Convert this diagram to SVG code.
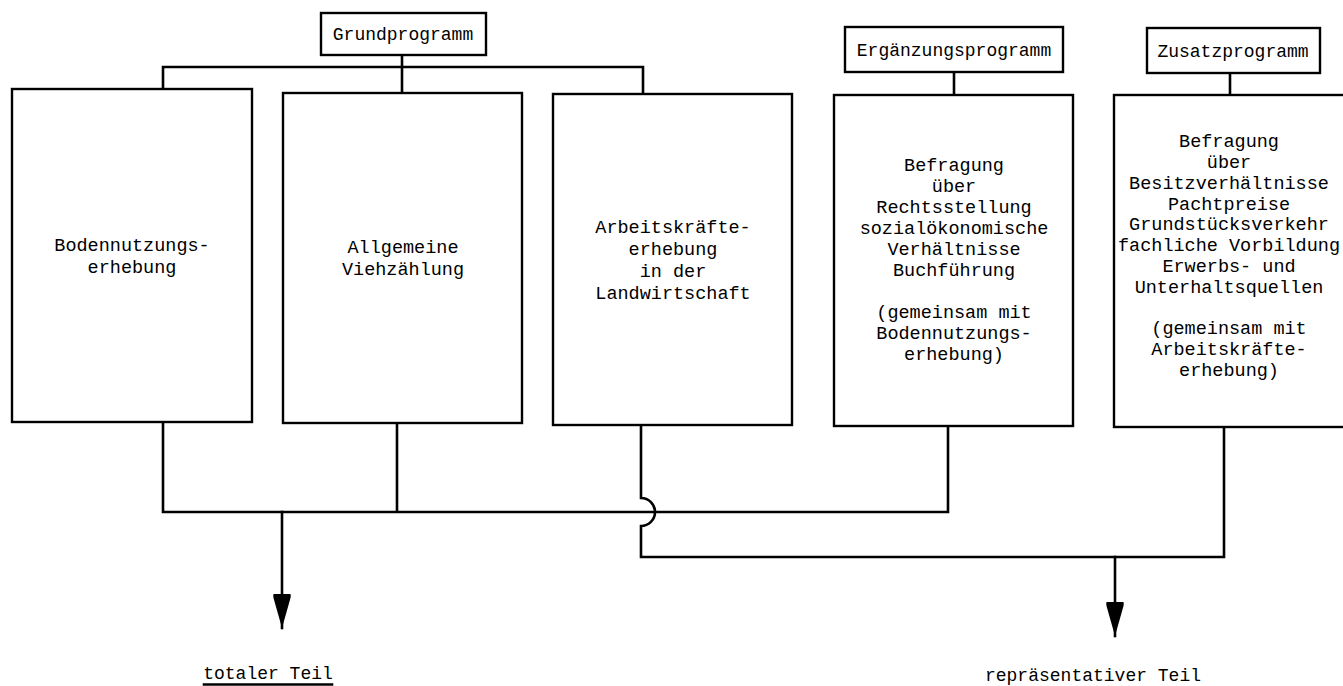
<svg xmlns="http://www.w3.org/2000/svg" width="1343" height="686" viewBox="0 0 1343 686">
<style>
.box{fill:#fff;stroke:#000;stroke-width:2.4}
.ln{fill:none;stroke:#000;stroke-width:2.6;stroke-linecap:square}
.t{font-family:"Liberation Mono","DejaVu Sans Mono",monospace;font-size:18.5px;fill:#000;text-anchor:middle}
.h{font-size:18px}
</style>
<defs>
<marker id="ah" markerUnits="userSpaceOnUse" markerWidth="40" markerHeight="20" refX="34" refY="0" viewBox="0 -10 36 20" orient="auto" overflow="visible">
<path d="M0,-8.5 Q2,-9 4,-8.5 L34,0 L4,8.5 Q2,9 0,8.5 Z" fill="#000"/>
</marker>
</defs>
<rect width="1343" height="686" fill="#fff"/>
<g id="connectors">
<path class="ln" d="M402,55 V67 M163,88 V67 H643 V94 M402,67 V92"/>
<path class="ln" d="M954,72 V95"/>
<path class="ln" d="M1230,73 V95"/>
<path class="ln" d="M163,422 V512 H948 V426 M397,423 V512"/>
<path class="ln" d="M641,425 V498 A14,14 0 0 1 641,526 V557 H1224 V427"/>
<path class="ln" d="M282,512 V628" marker-end="url(#ah)"/>
<path class="ln" d="M1115,557 V636" marker-end="url(#ah)"/>
</g>
<g id="grundprogramm">
<rect class="box" x="321" y="13" width="165" height="42"/>
<text class="t h" x="403" y="40">Grundprogramm</text>
</g>
<g id="ergaenzungsprogramm">
<rect class="box" x="845" y="27" width="218" height="45"/>
<text class="t h" x="954" y="56">Ergänzungsprogramm</text>
</g>
<g id="zusatzprogramm">
<rect class="box" x="1147" y="28" width="173" height="45"/>
<text class="t h" x="1233" y="57">Zusatzprogramm</text>
</g>
<g id="bodennutzung">
<rect class="box" x="12" y="89" width="240" height="333"/>
<text class="t" x="132" y="251">Bodennutzungs-</text>
<text class="t" x="132" y="272.5">erhebung</text>
</g>
<g id="viehzaehlung">
<rect class="box" x="283" y="93" width="239" height="330"/>
<text class="t" x="403" y="253">Allgemeine</text>
<text class="t" x="403" y="274.5">Viehzählung</text>
</g>
<g id="arbeitskraefte">
<rect class="box" x="553" y="94" width="239" height="331"/>
<text class="t" x="673" y="233">Arbeitskräfte-</text>
<text class="t" x="673" y="255">erhebung</text>
<text class="t" x="673" y="277">in der</text>
<text class="t" x="673" y="299">Landwirtschaft</text>
</g>
<g id="ergaenzung-inhalt">
<rect class="box" x="834" y="95" width="239" height="331"/>
<text class="t" x="954" y="171">Befragung</text>
<text class="t" x="954" y="192">über</text>
<text class="t" x="954" y="213">Rechtsstellung</text>
<text class="t" x="954" y="234">sozialökonomische</text>
<text class="t" x="954" y="255">Verhältnisse</text>
<text class="t" x="954" y="276">Buchführung</text>
<text class="t" x="954" y="318">(gemeinsam mit</text>
<text class="t" x="954" y="339">Bodennutzungs-</text>
<text class="t" x="954" y="360">erhebung)</text>
</g>
<g id="zusatz-inhalt">
<rect class="box" x="1114" y="95" width="235" height="332"/>
<text class="t" x="1229" y="147">Befragung</text>
<text class="t" x="1229" y="168">über</text>
<text class="t" x="1229" y="189">Besitzverhältnisse</text>
<text class="t" x="1229" y="209.5">Pachtpreise</text>
<text class="t" x="1229" y="230">Grundstücksverkehr</text>
<text class="t" x="1229" y="251">fachliche Vorbildung</text>
<text class="t" x="1229" y="272">Erwerbs- und</text>
<text class="t" x="1229" y="292.5">Unterhaltsquellen</text>
<text class="t" x="1229" y="334">(gemeinsam mit</text>
<text class="t" x="1229" y="355">Arbeitskräfte-</text>
<text class="t" x="1229" y="376">erhebung)</text>
</g>
<g id="totaler-teil">
<text class="t h" x="268" y="679">totaler Teil</text>
<path class="ln" d="M204,684.5 H332" stroke-width="1.5"/>
</g>
<g id="repraesentativer-teil">
<text class="t h" x="1093" y="681">repräsentativer Teil</text>
</g>
</svg>
